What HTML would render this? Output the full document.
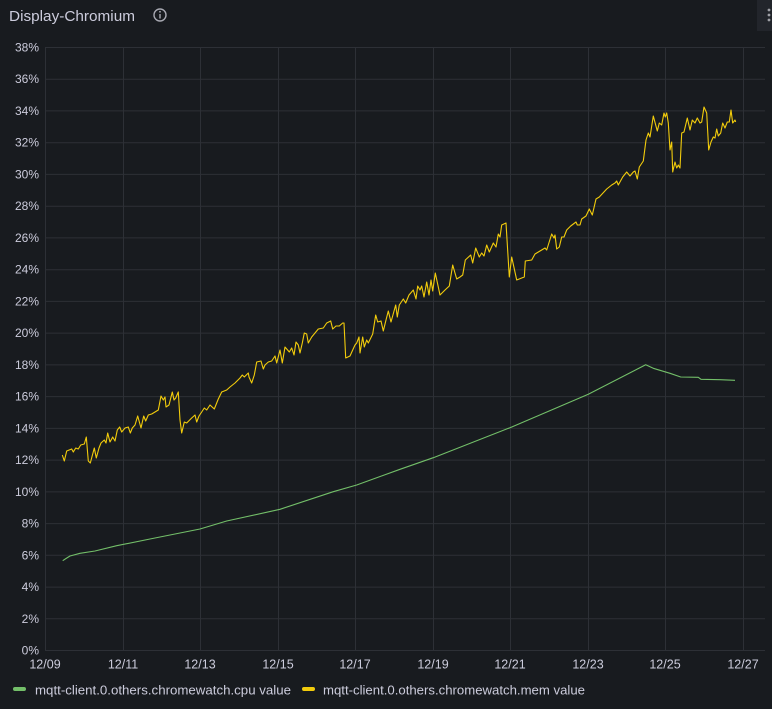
<!DOCTYPE html>
<html><head><meta charset="utf-8"><style>
html,body{margin:0;padding:0;background:#181b1f;}
body{width:772px;height:704px;overflow:hidden;position:relative;font-family:"Liberation Sans",sans-serif;}
svg text{font-family:"Liberation Sans",sans-serif;}
</style></head><body>
<svg width="772" height="704" viewBox="0 0 772 704" xmlns="http://www.w3.org/2000/svg">
<rect x="0" y="0" width="772" height="704" fill="#181b1f"/>
<rect x="757" y="0" width="15" height="31" fill="#22252b"/>
<circle cx="769" cy="10" r="1.4" fill="#9fa0a6"/>
<circle cx="769" cy="15" r="1.4" fill="#9fa0a6"/>
<circle cx="769" cy="20" r="1.4" fill="#9fa0a6"/>
<text x="9" y="21" font-size="15" font-weight="500" fill="#ccccdc" textLength="126" lengthAdjust="spacingAndGlyphs">Display-Chromium</text>
<circle cx="160" cy="15" r="6" fill="none" stroke="#a8a9b2" stroke-width="1.4"/>
<line x1="160" y1="14" x2="160" y2="18.5" stroke="#a8a9b2" stroke-width="1.4"/>
<circle cx="160" cy="11.8" r="0.9" fill="#a8a9b2"/>
<g stroke="#2d3036" stroke-width="1">
<line x1="45" y1="47.5" x2="765" y2="47.5"/>
<line x1="45" y1="79.2" x2="765" y2="79.2"/>
<line x1="45" y1="110.9" x2="765" y2="110.9"/>
<line x1="45" y1="142.7" x2="765" y2="142.7"/>
<line x1="45" y1="174.4" x2="765" y2="174.4"/>
<line x1="45" y1="206.2" x2="765" y2="206.2"/>
<line x1="45" y1="237.9" x2="765" y2="237.9"/>
<line x1="45" y1="269.7" x2="765" y2="269.7"/>
<line x1="45" y1="301.4" x2="765" y2="301.4"/>
<line x1="45" y1="333.1" x2="765" y2="333.1"/>
<line x1="45" y1="364.9" x2="765" y2="364.9"/>
<line x1="45" y1="396.6" x2="765" y2="396.6"/>
<line x1="45" y1="428.4" x2="765" y2="428.4"/>
<line x1="45" y1="460.1" x2="765" y2="460.1"/>
<line x1="45" y1="491.9" x2="765" y2="491.9"/>
<line x1="45" y1="523.6" x2="765" y2="523.6"/>
<line x1="45" y1="555.3" x2="765" y2="555.3"/>
<line x1="45" y1="587.1" x2="765" y2="587.1"/>
<line x1="45" y1="618.8" x2="765" y2="618.8"/>
<line x1="45" y1="650.5" x2="765" y2="650.5"/>
<line x1="45.5" y1="47" x2="45.5" y2="651"/>
<line x1="123.5" y1="47" x2="123.5" y2="651"/>
<line x1="200.5" y1="47" x2="200.5" y2="651"/>
<line x1="278.5" y1="47" x2="278.5" y2="651"/>
<line x1="355.5" y1="47" x2="355.5" y2="651"/>
<line x1="433.5" y1="47" x2="433.5" y2="651"/>
<line x1="510.5" y1="47" x2="510.5" y2="651"/>
<line x1="588.5" y1="47" x2="588.5" y2="651"/>
<line x1="665.5" y1="47" x2="665.5" y2="651"/>
<line x1="743.5" y1="47" x2="743.5" y2="651"/>
</g>
<g font-size="12" fill="#ccccdc" text-anchor="end">
<text x="39" y="51.5">38%</text>
<text x="39" y="83.2">36%</text>
<text x="39" y="114.9">34%</text>
<text x="39" y="146.7">32%</text>
<text x="39" y="178.4">30%</text>
<text x="39" y="210.2">28%</text>
<text x="39" y="241.9">26%</text>
<text x="39" y="273.7">24%</text>
<text x="39" y="305.4">22%</text>
<text x="39" y="337.1">20%</text>
<text x="39" y="368.9">18%</text>
<text x="39" y="400.6">16%</text>
<text x="39" y="432.4">14%</text>
<text x="39" y="464.1">12%</text>
<text x="39" y="495.9">10%</text>
<text x="39" y="527.6">8%</text>
<text x="39" y="559.3">6%</text>
<text x="39" y="591.1">4%</text>
<text x="39" y="622.8">2%</text>
<text x="39" y="654.5">0%</text>
</g>
<g font-size="12.5" fill="#ccccdc" text-anchor="middle">
<text x="45" y="668.5">12/09</text>
<text x="123" y="668.5">12/11</text>
<text x="200" y="668.5">12/13</text>
<text x="278" y="668.5">12/15</text>
<text x="355" y="668.5">12/17</text>
<text x="433" y="668.5">12/19</text>
<text x="510" y="668.5">12/21</text>
<text x="588" y="668.5">12/23</text>
<text x="665" y="668.5">12/25</text>
<text x="743" y="668.5">12/27</text>
</g>
<polyline fill="none" stroke="#73bf69" stroke-width="1.1" stroke-linejoin="round" points="62.7,560.7 66,558.5 70,556 80,553.3 95,551 116.7,545.7 150,539 200,529 226.7,521 280,509.3 333.3,491.7 356.7,485 400,469.3 433.3,457.7 510,427.7 588.3,394.3 645.7,364.7 653.3,368.3 670,373.3 680.7,377 698.3,377.3 701,379.3 720,379.7 735,380.3"/>
<polyline fill="none" stroke="#f2cc0c" stroke-width="1.1" stroke-linejoin="round" points="62.3,455 64.3,461 66.7,451 71.7,449 73.3,452 75.7,448 78.3,449 80.7,445 84.3,444 86.3,437 88.3,461 90.3,463 94.3,448 96.3,458 99,448 101,443 104.3,440 106,443 107.7,433 110,442 112.7,437 115,441 117.3,430 119.7,427 121.7,432 125,428 128.3,427 130.3,433 132.3,428 135,425 137.7,416 141,428 143.7,416 145.7,421 148.3,415 151.7,414 155,412 158.3,410 161,396 163.3,400 165,397 166,407 169,405 172.3,392 174,400 175.7,398 178.3,392 180,420 181.7,433 184.3,422 186.7,423 191.7,418 195,415 196.7,422 199,416 201.7,412 204.3,408 206.7,410 210,405 214.3,409 218.3,399 221.7,392 226.7,390 230,387 235,383 240,378 242.3,375 244.3,377 248.3,373 249,377 251.7,383 254.3,375 256.7,362 261,361 263.3,369 265,365 268.3,362 271.7,361 275,356 276.7,363 280,350 282.3,363 285,347 289.3,352 291.7,348 294,355 296,342 298.3,345 300,353 302.3,343 304.3,333 306.7,334 308.3,343 311.7,337 315,333 318.3,329 323.3,328 326.7,323 330.7,321 332.7,329 336,326 339.3,326 342.7,323 344,323 345.7,358 350,356 352.7,350 355,345 356.7,343 359,337 360,353 362.7,337 364.3,347 366.7,340 368.3,343 372.7,334 375.7,315 377.7,322 381,321 383.3,331 386,320 388.3,311 391,322 395.7,305 397.3,317 399.3,305 403.3,299 405.7,303 409,295 413.3,290 416,299 417.7,286 420,290 421.7,286 424,297 426.7,282 429,295 431,280 432.7,291 435.3,273 440,295 445,290 449.3,286 452.7,265 456.7,279 460,277 462.7,275 465.3,260 470.7,255 472.7,263 475.7,248 479.3,257 481.7,253 484,256 486.7,245 489.3,252 493.3,243 496,247 498.3,234 500,237 501.7,225 506,223 509.3,277 511.7,257 516.7,280 521.7,278 524.3,277 525.3,261 531.7,260 535,254 540,251 545,248 546.7,250 551.7,234 554,238 555,235 556.7,249 559.3,247 561.7,237 564,237 566.7,230 570.7,226 576,222 577.3,225 580,225 581.7,219 586,216 589.3,209 592.3,215 596,199 599.3,197 606.7,189 611.7,185 615,183 616.7,181 618.3,185 622.7,177 626.7,172 630,176 633.3,172 635,171 637.3,179 639.3,167 643.3,161 646,140 648.3,133 650,137 653.3,116 657.3,131 659.3,123 661.7,125 664,113 665.3,117 666.7,113 668.3,123 670,150 671.7,142 672.7,172 675,162 676.7,168 678.3,165 680,168 681.7,133 684,132 687.3,118 690,130 692.3,120 695,123 697.3,118 700,123 701.7,122 704,107 706.7,113 708.7,150 711,142 713.3,137 715,138 716.7,129 718.3,136 720.7,133 722.7,123 725,128 727.3,122 729.3,122 731,110 732.7,123 735,120 735.7,122"/>
<rect x="13" y="687" width="13" height="4" rx="2" fill="#73bf69"/>
<text x="35" y="694.5" font-size="12.5" fill="#ccccdc" textLength="256" lengthAdjust="spacingAndGlyphs">mqtt-client.0.others.chromewatch.cpu value</text>
<rect x="302" y="687" width="13" height="4" rx="2" fill="#f2cc0c"/>
<text x="323" y="694.5" font-size="12.5" fill="#ccccdc" textLength="262" lengthAdjust="spacingAndGlyphs">mqtt-client.0.others.chromewatch.mem value</text>
</svg>
</body></html>
